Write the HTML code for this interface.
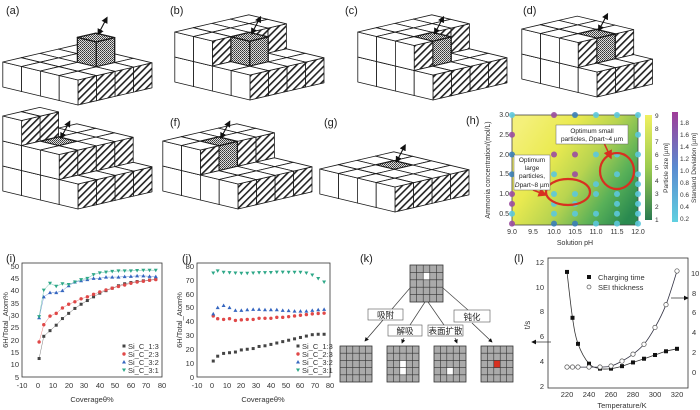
<!DOCTYPE html>
<html><head><meta charset="utf-8"><style>
html,body{margin:0;padding:0;background:#fff;}
svg{display:block;font-family:"Liberation Sans","Noto Sans CJK SC",sans-serif;}
</style></head><body>
<svg id="s" width="700" height="410" viewBox="0 0 700 410" xmlns="http://www.w3.org/2000/svg">
<defs>
<pattern id="hatch" width="5" height="5" patternUnits="userSpaceOnUse" patternTransform="rotate(45)">
<rect width="5" height="5" fill="#fff"/><rect x="0" y="0" width="1.6" height="5" fill="#222"/></pattern>
<pattern id="dots" width="2" height="2" patternUnits="userSpaceOnUse">
<rect width="2" height="2" fill="#ddd"/><rect width="1" height="1" fill="#333"/><rect x="1" y="1" width="1" height="1" fill="#555"/></pattern>
<marker id="ah" markerWidth="6" markerHeight="6" refX="5" refY="3" orient="auto-start-reverse"><path d="M0,0 L6,3 L0,6 z" fill="#111"/></marker>
<marker id="ahr" markerWidth="6" markerHeight="6" refX="5" refY="3" orient="auto"><path d="M0,0 L6,3 L0,6 z" fill="#d83020"/></marker>
<linearGradient id="heat" x1="0" y1="0.2" x2="1" y2="0.8">
<stop offset="0" stop-color="#f4f07a"/><stop offset="0.3" stop-color="#eaea50"/><stop offset="0.55" stop-color="#b8d450"/><stop offset="0.8" stop-color="#58b058"/><stop offset="1" stop-color="#2a8a50"/></linearGradient>
<linearGradient id="cb1" x1="0" y1="0" x2="0" y2="1"><stop offset="0" stop-color="#f0f060"/><stop offset="0.5" stop-color="#9ccc50"/><stop offset="1" stop-color="#2a7a50"/></linearGradient>
<linearGradient id="cb2" x1="0" y1="0" x2="0" y2="1"><stop offset="0" stop-color="#a03c98"/><stop offset="0.5" stop-color="#5a8ad0"/><stop offset="1" stop-color="#60d0e0"/></linearGradient>
</defs>

<g font-size="11" fill="#222">
<text x="6" y="14">(a)</text><text x="170" y="14">(b)</text><text x="345" y="14">(c)</text><text x="523" y="14">(d)</text>
<text x="6" y="126">(e)</text><text x="170" y="126">(f)</text><text x="324" y="126">(g)</text><text x="466" y="124">(h)</text>
<text x="6" y="262">(i)</text><text x="182" y="262">(j)</text><text x="360" y="262">(k)</text><text x="514" y="262">(l)</text>
</g>
<g id="cubes"></g>

<rect x="512" y="115" width="126" height="110" fill="url(#heat)" stroke="#444" stroke-width="0.8"/>
<g id="hdots"></g>
<ellipse cx="568" cy="192" rx="22" ry="13" fill="none" stroke="#d83020" stroke-width="2.2"/>
<ellipse cx="617" cy="171" rx="17" ry="18" fill="none" stroke="#d83020" stroke-width="2.2"/>
<line x1="604" y1="143" x2="611" y2="158" stroke="#d83020" stroke-width="1.5" marker-end="url(#ahr)"/>
<line x1="533" y1="190" x2="546" y2="195" stroke="#d83020" stroke-width="1.5" marker-end="url(#ahr)"/>
<rect x="556" y="125" width="72" height="19" fill="#fff" stroke="#666" stroke-width="0.5"/>
<text x="592" y="133" font-size="6.5" text-anchor="middle" fill="#222">Optimum small</text>
<text x="592" y="141" font-size="6.5" text-anchor="middle" fill="#222">particles, <tspan font-style="italic">D</tspan>part~4 µm</text>
<rect x="514" y="155" width="36" height="35" fill="#fff" stroke="#666" stroke-width="0.5"/>
<g font-size="6.5" text-anchor="middle" fill="#222">
<text x="532" y="162">Optimum</text><text x="532" y="170">large</text><text x="532" y="178">particles,</text>
<text x="532" y="187"><tspan font-style="italic">D</tspan>part~8 µm</text></g>
<g font-size="7" fill="#333" text-anchor="end">
<text x="509" y="117">3.0</text><text x="509" y="137">2.5</text><text x="509" y="157">2.0</text><text x="509" y="176">1.5</text><text x="509" y="196">1.0</text><text x="509" y="216">0.5</text></g>
<g font-size="7" fill="#333" text-anchor="middle">
<text x="512" y="234">9.0</text><text x="533" y="234">9.5</text><text x="554" y="234">10.0</text><text x="575" y="234">10.5</text><text x="596" y="234">11.0</text><text x="617" y="234">11.5</text><text x="638" y="234">12.0</text></g>
<text x="575" y="245" font-size="7" text-anchor="middle" fill="#333">Solution pH</text>
<text transform="translate(490,170) rotate(-90)" font-size="7" text-anchor="middle" fill="#333">Ammonia concentration/(mol/L)</text>
<rect x="645" y="115" width="7" height="105" fill="url(#cb1)"/>
<g font-size="6.5" fill="#333"><text x="655" y="118">9</text><text x="655" y="131">8</text><text x="655" y="144">7</text><text x="655" y="157">6</text><text x="655" y="170">5</text><text x="655" y="183">4</text><text x="655" y="196">3</text><text x="655" y="209">2</text><text x="655" y="222">1</text></g>
<text transform="translate(668,168) rotate(-90)" font-size="6.5" text-anchor="middle" fill="#333">Particle size [µm]</text>
<rect x="672" y="112" width="6" height="110" fill="url(#cb2)"/>
<g font-size="6.5" fill="#333"><text x="680" y="125">1.8</text><text x="680" y="137">1.6</text><text x="680" y="149">1.4</text><text x="680" y="161">1.2</text><text x="680" y="173">1.0</text><text x="680" y="185">0.8</text><text x="680" y="197">0.6</text><text x="680" y="209">0.4</text><text x="680" y="221">0.2</text></g>
<text transform="translate(696,168) rotate(-90)" font-size="6.5" text-anchor="middle" fill="#333">Standard Deviation [µm]</text>

<rect x="22" y="263" width="140" height="114" fill="none" stroke="#333" stroke-width="0.8"/>
<g font-size="7.5" fill="#333" text-anchor="end">
<text x="19" y="269">50</text><text x="19" y="281">45</text><text x="19" y="293">40</text><text x="19" y="306">35</text><text x="19" y="318">30</text><text x="19" y="330">25</text><text x="19" y="343">20</text><text x="19" y="355">15</text><text x="19" y="367">10</text><text x="19" y="380">5</text></g>
<g font-size="7.5" fill="#333" text-anchor="middle">
<text x="22" y="388">-10</text><text x="38" y="388">0</text><text x="53" y="388">10</text><text x="69" y="388">20</text><text x="84" y="388">30</text><text x="100" y="388">40</text><text x="115" y="388">50</text><text x="131" y="388">60</text><text x="146" y="388">70</text><text x="162" y="388">80</text></g>
<text x="92" y="402" font-size="7.5" text-anchor="middle" fill="#333">Coverageθ%</text>
<text transform="translate(8,320) rotate(-90)" font-size="7.5" text-anchor="middle" fill="#333">6H/Total_Atom%</text>
<g font-size="7.5" fill="#333"><text x="128" y="349">Si_C_1:3</text><text x="128" y="357">Si_C_2:3</text><text x="128" y="365">Si_C_3:2</text><text x="128" y="373">Si_C_3:1</text></g>
<rect x="197" y="263" width="133" height="114" fill="none" stroke="#333" stroke-width="0.8"/>
<g font-size="7.5" fill="#333" text-anchor="end">
<text x="194" y="269">80</text><text x="194" y="283">70</text><text x="194" y="297">60</text><text x="194" y="310">50</text><text x="194" y="324">40</text><text x="194" y="338">30</text><text x="194" y="352">20</text><text x="194" y="366">10</text><text x="194" y="380">0</text></g>
<g font-size="7.5" fill="#333" text-anchor="middle">
<text x="197" y="388">-10</text><text x="212" y="388">0</text><text x="227" y="388">10</text><text x="241" y="388">20</text><text x="256" y="388">30</text><text x="271" y="388">40</text><text x="286" y="388">50</text><text x="300" y="388">60</text><text x="315" y="388">70</text><text x="330" y="388">80</text></g>
<text x="263" y="402" font-size="7.5" text-anchor="middle" fill="#333">Coverageθ%</text>
<text transform="translate(182,320) rotate(-90)" font-size="7.5" text-anchor="middle" fill="#333">6H/Total_Atom%</text>
<g font-size="7.5" fill="#333"><text x="302" y="349">Si_C_1:3</text><text x="302" y="357">Si_C_2:3</text><text x="302" y="365">Si_C_3:2</text><text x="302" y="373">Si_C_3:1</text></g>
<g id="plots"></g>

<g id="grids"></g>
<g stroke="#444" stroke-width="0.7" fill="none">
<line x1="410" y1="288" x2="392" y2="309"/><line x1="425" y1="302" x2="410" y2="325"/><line x1="428" y1="302" x2="444" y2="325"/><line x1="443" y1="288" x2="468" y2="310"/>
</g>
<g stroke="#333" stroke-width="0.7" fill="none">
<line x1="383" y1="320" x2="365" y2="341" marker-end="url(#ah)"/><line x1="404" y1="338" x2="402" y2="343" marker-end="url(#ah)"/>
<line x1="455" y1="338" x2="457" y2="343" marker-end="url(#ah)"/><line x1="472" y1="323" x2="492" y2="342" marker-end="url(#ah)"/></g>
<g fill="#fff" stroke="#555" stroke-width="0.6">
<rect x="368" y="309" width="35" height="11"/><rect x="388" y="325" width="34" height="11"/><rect x="428" y="325" width="35" height="11"/><rect x="454" y="310" width="36" height="12"/></g>
<g font-size="8.5" fill="#222" text-anchor="middle">
<text x="385.5" y="318">吸附</text><text x="405" y="334">解吸</text><text x="445.5" y="334">表面扩散</text><text x="472" y="320">钝化</text></g>

<rect x="548" y="258" width="140" height="130" fill="none" stroke="#333" stroke-width="0.8"/>
<g font-size="7.5" fill="#333" text-anchor="end">
<text x="544" y="265">12</text><text x="544" y="290">10</text><text x="544" y="314">8</text><text x="544" y="339">6</text><text x="544" y="364">4</text><text x="544" y="389">2</text></g>
<g font-size="7.5" fill="#333">
<text x="691" y="276">10</text><text x="692" y="296">8</text><text x="692" y="315">6</text><text x="692" y="335">4</text><text x="692" y="355">2</text><text x="692" y="375">0</text></g>
<g font-size="7.5" fill="#333" text-anchor="middle">
<text x="567" y="397">220</text><text x="589" y="397">240</text><text x="611" y="397">260</text><text x="633" y="397">280</text><text x="655" y="397">300</text><text x="677" y="397">320</text></g>
<text x="622" y="408" font-size="7.5" text-anchor="middle" fill="#333">Temperature/K</text>
<text transform="translate(530,325) rotate(-90)" font-size="8" text-anchor="middle" fill="#333">t/s</text>
<rect x="587" y="275" width="4" height="4" fill="#111"/><text x="598" y="280" font-size="7.5" fill="#333">Charging time</text>
<circle cx="589" cy="287" r="2" fill="#fff" stroke="#555" stroke-width="0.7"/><text x="598" y="290" font-size="7.5" fill="#333">SEI thickness</text>
<line x1="551" y1="342" x2="532" y2="342" stroke="#333" stroke-width="0.8" marker-end="url(#ah)"/>
<line x1="671" y1="298" x2="688" y2="298" stroke="#333" stroke-width="0.8" marker-end="url(#ah)"/>
</svg>
<script>
var NS="http://www.w3.org/2000/svg";
function el(p,t,a){var e=document.createElementNS(NS,t);for(var k in a)e.setAttribute(k,a[k]);p.appendChild(e);return e;}
var cg=document.getElementById('cubes');
var U=[18.5,-4.3],V=[-18.8,-4.5],W=[0,-25];
function scene(O,NA,NB,hf,dot,dtop){
 function P(a,b,c){return [O[0]+a*U[0]+b*V[0]+c*W[0],O[1]+a*U[1]+b*V[1]+c*W[1]];}
 function poly(pts,fill,sw){el(cg,'polygon',{points:pts.map(function(p){return p[0].toFixed(1)+','+p[1].toFixed(1)}).join(' '),fill:fill,stroke:'#1a1a1a','stroke-width':sw||0.8,'stroke-linejoin':'round'});}
 var list=[];
 for(var a=0;a<NA;a++)for(var b=0;b<NB;b++){var h=hf(a,b);for(var c=0;c<h;c++)list.push([a,b,c]);}
 list.sort(function(x,y){return (y[0]+y[1])-(x[0]+x[1])||x[2]-y[2];});
 var top=null;
 list.forEach(function(q){var a=q[0],b=q[1],c=q[2];var d=dot&&dot[0]==a&&dot[1]==b&&dot[2]==c;
  var f=d?'url(#dots)':'#fff',sw=d?1.3:0.8;
  poly([P(a,b,c),P(a+1,b,c),P(a+1,b,c+1),P(a,b,c+1)],d?'url(#dots)':'url(#hatch)',sw);
  poly([P(a,b,c),P(a,b+1,c),P(a,b+1,c+1),P(a,b,c+1)],f,sw);
  var td=d||(dtop&&dtop[0]==a&&dtop[1]==b&&dtop[2]==c);
  poly([P(a,b,c+1),P(a+1,b,c+1),P(a+1,b+1,c+1),P(a,b+1,c+1)],td?'url(#dots)':'#fff',td?1.3:0.8);
  if(d||td)top=P(a+.5,b+.5,c+1);
 });
 if(top){el(cg,'line',{x1:top[0]+2,y1:top[1]-3,x2:top[0]+11,y2:top[1]-20,stroke:'#111','stroke-width':1.1,'marker-start':'url(#ah)','marker-end':'url(#ah)'});}
}
scene([78,105],4,4,function(a,b){return (a==2&&b==1)?2:1;},[2,1,1]);
scene([250,100],4,4,function(a,b){return b>=2?2:(a==1&&b==1?2:1);},[1,1,1]);
scene([433,100],4,4,function(a,b){return b>=2?2:((b==1&&a<=1)?2:1);},[1,1,1]);
scene([597,97],3,4,function(a,b){return b>=1?2:1;},[1,1,1]);
scene([78,209],4,4,function(a,b){return b==0?1:((b==3&&a<=1)?3:2);},null,[1,2,1]);
scene([238,209],4,4,function(a,b){return b>=2?2:1;},[1,2,1]);
scene([395,212],4,4,function(a,b){return 1;},null,[2,2,0]);

var hd=document.getElementById('hdots');
function hx(p){return 512+(p-9)*42;} function hy(c){return 115+(3-c)*39.5;}
var C='#5cc8dc',Pp='#9a4ca0',B='#3a80b8';
var dots=[[9,3,C],[10,3,Pp],[10.5,3,B],[11,3,C],[11.5,3,C],[12,3,C],[9,2.5,Pp],[12,2.5,C],
[9,2,B],[10,2,Pp],[10.5,2,Pp],[11,2,C],[11.5,2,C],[12,2,C],
[9,1.5,B],[10,1.5,C],[10.5,1.5,Pp],[11.5,1.5,C],[12,1.5,C],[11,1.25,C],[12,1.25,C],
[9,1,Pp],[10,1,C],[10.5,1,C],[11,1,C],[11.5,1,C],[12,1,C],
[9,0.75,Pp],[10,0.75,C],[10.5,0.75,C],[11.5,0.75,C],[12,0.75,C],
[9,0.5,C],[10,0.5,C],[10.5,0.5,C],[11,0.5,C],[11.5,0.5,C],[12,0.5,C],
[9,0.25,Pp],[10,0.25,B],[10.5,0.25,B],[11,0.25,C],[11.5,0.25,C],[12,0.25,C]];
dots.forEach(function(d){el(hd,'circle',{cx:hx(d[0]),cy:hy(d[1]),r:3,fill:d[2],opacity:0.9});});

var pg=document.getElementById('plots');
var X=[1,4,8,12,16,20,24,28,32,36,40,44,48,52,56,60,64,68,72,76];
function mark(x,y,type,col){
 if(type==0)el(pg,'rect',{x:x-1.5,y:y-1.5,width:3,height:3,fill:col});
 else if(type==1)el(pg,'circle',{cx:x,cy:y,r:1.7,fill:col});
 else if(type==2)el(pg,'polygon',{points:(x)+','+(y-2)+' '+(x-2)+','+(y+1.5)+' '+(x+2)+','+(y+1.5),fill:col});
 else el(pg,'polygon',{points:(x)+','+(y+2)+' '+(x-2)+','+(y-1.5)+' '+(x+2)+','+(y-1.5),fill:col});
}
var cols=['#444','#e04848','#3566c0','#2ea888'];
function plot(series,fx,fy,lines,lx,ly){
 series.forEach(function(s,k){var pts=X.map(function(x,i){return [fx(x),fy(s[i])];});
  if(lines)el(pg,'polyline',{points:pts.map(function(p){return p.join(',')}).join(' '),fill:'none',stroke:cols[k],'stroke-width':0.5,opacity:0.7});
  pts.forEach(function(p){mark(p[0],p[1],k,cols[k]);});
  mark(lx,ly+k*8,k,cols[k]);});
}
plot([[12.5,21.5,23.8,26,28.7,30.8,32.8,34.5,36,37.5,39,40,41,42,42.8,43.3,43.7,44,44.3,44.7],
[19.2,26.2,29.7,30.8,33,34.5,35.5,36.7,37.5,38.5,39.5,40.3,41,41.7,42.3,43,43.5,43.8,44.2,44.5],
[29,37.5,39.2,39.2,40,42,43.5,44,44.5,45,45,45.5,45.5,45.5,45.7,45.8,46,46,45.8,45.7],
[29.5,40.2,43,41.8,42.8,42.5,43.5,44.5,45,46.5,47.2,47.5,47.8,48,48,48,48.2,48.3,48.3,48.3]],
function(v){return 22+(v+10)*1.5556;},function(v){return 266+(50-v)*2.467;},true,124,346);
plot([[11.5,15,17,17.5,18,19.5,20,20.5,22,22.5,23.5,24.5,25.5,26.5,27.5,28.5,29.5,30.5,30.8,30.8],
[44,42,41.5,42,40.8,41.2,41.5,41.5,42.3,42.3,42.3,43,43,43.5,44,44.5,45,45.5,45.8,46],
[45.5,50,51.5,50,48,48,48.5,48.7,48.7,48.5,48.5,48.5,48,47.8,47.5,47.5,47.5,48,48.5,48.7],
[75,76.5,75.5,75.2,75,74.8,74.8,75,75.2,75.2,75.3,75.6,75.6,75.5,75.5,75.5,75,73.5,71,68.5]],
function(v){return 197+(v+10)*1.478;},function(v){return 377-v*1.3875;},false,298,346);

function lx(t){return 567+(t-220)*1.1;} function ly(v){return 386-(v-2)*12.4;} function ry(v){return 372-v*9.9;}
function cr(pts){var d='M'+pts[0][0]+','+pts[0][1];for(var i=0;i<pts.length-1;i++){var p0=pts[i-1]||pts[i],p1=pts[i],p2=pts[i+1],p3=pts[i+2]||p2;
 d+=' C'+(p1[0]+(p2[0]-p0[0])/6).toFixed(1)+','+(p1[1]+(p2[1]-p0[1])/6).toFixed(1)+' '+(p2[0]-(p3[0]-p1[0])/6).toFixed(1)+','+(p2[1]-(p3[1]-p1[1])/6).toFixed(1)+' '+p2[0].toFixed(1)+','+p2[1].toFixed(1);}return d;}
var ct=[[220,11.2],[225,7.5],[230,5.4],[240,3.8],[250,3.4],[260,3.4],[270,3.6],[280,3.9],[290,4.2],[300,4.5],[310,4.8],[320,5.0]];
var se=[[220,0.5],[225,0.5],[230,0.5],[240,0.5],[250,0.5],[260,0.6],[270,1.1],[280,1.8],[290,2.8],[300,4.5],[310,6.8],[320,10.2]];
var ctp=ct.map(function(p){return [lx(p[0]),ly(p[1])];}),sep=se.map(function(p){return [lx(p[0]),ry(p[1])];});
el(pg,'path',{d:cr(ctp),fill:'none',stroke:'#333','stroke-width':0.8});
el(pg,'path',{d:cr(sep),fill:'none',stroke:'#334','stroke-width':0.8});
ctp.forEach(function(p){el(pg,'rect',{x:p[0]-2,y:p[1]-2,width:4,height:4,fill:'#111'});});
sep.forEach(function(p){el(pg,'circle',{cx:p[0],cy:p[1],r:2.2,fill:'#fff',stroke:'#555','stroke-width':0.7});});

var gg=document.getElementById('grids');
function grid(x,y,w,h,special){var cw=w/5,ch=h/5;el(gg,'rect',{x:x,y:y,width:w,height:h,fill:'#aaa',stroke:'#333','stroke-width':0.8});
 (special||[]).forEach(function(s){el(gg,'rect',{x:x+s[0]*cw,y:y+s[1]*ch,width:cw,height:ch,fill:s[2]});});
 for(var i=1;i<5;i++){el(gg,'line',{x1:x+i*cw,y1:y,x2:x+i*cw,y2:y+h,stroke:'#333','stroke-width':0.6});el(gg,'line',{x1:x,y1:y+i*ch,x2:x+w,y2:y+i*ch,stroke:'#333','stroke-width':0.6});}}
grid(410,265,33,37,[[2,1,'#fff']]);
grid(340,346,32,36,[]);
grid(387,346,32,36,[[2,2,'#fff'],[2,3,'#fff']]);
grid(434,346,32,36,[[2,3,'#fff']]);
grid(481,346,32,36,[[2,2,'#d83020']]);
</script>
</body></html>
